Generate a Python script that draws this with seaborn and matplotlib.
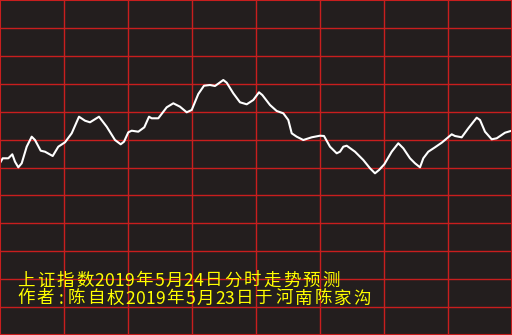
import matplotlib
matplotlib.use("Agg")
import matplotlib.pyplot as plt
import seaborn as sns
import pandas as pd

# time position (0..512 across the trading session) and level (pixel-height units, 0..335)
t = [0, 2.7, 8.3, 12.3, 15, 18.3, 21.7, 26.7, 31.7, 35, 40.7, 45, 52.7, 58.3, 65,
     71.7, 79, 85, 90, 99, 106.7, 115, 120.7, 124, 128.3, 131.7, 138.3, 144.3, 149,
     151.7, 158.3, 166.7, 173.3, 180, 186.7, 191.7, 198.3, 204, 210, 215, 223.3,
     226.7, 233.3, 240, 246.7, 253.3, 259, 262.3, 270, 276.7, 283.3, 288.3, 291.7,
     296.7, 303.3, 311.7, 320, 324, 330, 336.7, 340, 343.3, 346.7, 355, 363.3, 370,
     375, 379, 384.3, 391.7, 398.3, 403.3, 410, 415, 420, 423.3, 428.3, 435, 441.7,
     451.7, 455, 461.7, 468.3, 476.7, 480, 485, 491.7, 496.7, 505, 511.7]
y_px = [163, 158.3, 158.3, 154.3, 161.7, 167.3, 163.3, 146.7, 136.7, 140, 150.7, 151.7,
        156, 146.7, 142.3, 133.3, 116.7, 120.7, 122.3, 116.7, 126.7, 140, 144.3, 141.7,
        132.3, 130.7, 131.7, 127.3, 116.7, 118.3, 118.3, 107.3, 103.3, 106.7, 112.3,
        110, 94, 85.7, 85, 86, 80, 82.7, 93.3, 102.3, 104.3, 100, 92.3, 95, 105, 111,
        113.3, 120, 133.3, 136.7, 140, 137.3, 135.7, 136, 146.7, 153.3, 151.7, 146.7,
        145.7, 151.7, 160, 168.3, 173.3, 170, 164.3, 151.7, 143.3, 148.3, 158.3, 163.3,
        167.3, 158.3, 151.7, 147.3, 142.7, 134.3, 136, 137.3, 128.3, 117.7, 120,
        131.7, 139.3, 138.3, 132.7, 130.7]
level = [335 - v for v in y_px]

title1 = "上证指数2019年5月24日分时走势预测"
title2 = "作者:陈自权2019年5月23日于河南陈家沟"

df = pd.DataFrame({"t": t, "level": level})

bg = "#231e1e"
red = "#c81e1e"
sns.set_theme(style="dark")
plt.rcParams["font.family"] = ["Noto Sans CJK SC", "DejaVu Sans"]

fig = plt.figure(figsize=(5.12, 3.35), dpi=100, facecolor=bg)
ax = fig.add_axes([0, 0, 1, 1])
ax.set_facecolor(bg)

sns.lineplot(data=df, x="t", y="level", ax=ax, color="white", linewidth=1.5,
             estimator=None, sort=False)

ax.set_xlim(0, 512)
ax.set_ylim(0, 335)
ax.set_xticks([64 * i for i in range(1, 8)])
ax.set_yticks([335 / 12 * i for i in range(1, 12)])
ax.grid(True, color=red, linewidth=1.0)
ax.tick_params(length=0, labelbottom=False, labelleft=False)
ax.set_xlabel("")
ax.set_ylabel("")
for s in ax.spines.values():
    s.set_visible(True)
    s.set_color(red)
    s.set_linewidth(1.5)


def spaced_text(x0, y_base, s):
    """Draw text with wide character spacing, like the reference's bitmap font."""
    x = x0
    for ch in s:
        if ch.isdigit():
            adv = 10.0
        elif ch == ":":
            adv = 11.5
        else:
            adv = 19.6
        ax.text(x + adv / 2, 335 - y_base, ch, color="#ffff00", fontsize=12.6,
                ha="center", va="baseline")
        x += adv


spaced_text(16, 285.5, title1)
spaced_text(16, 303.5, title2)

fig.savefig("out.png", dpi=100, facecolor=bg)
